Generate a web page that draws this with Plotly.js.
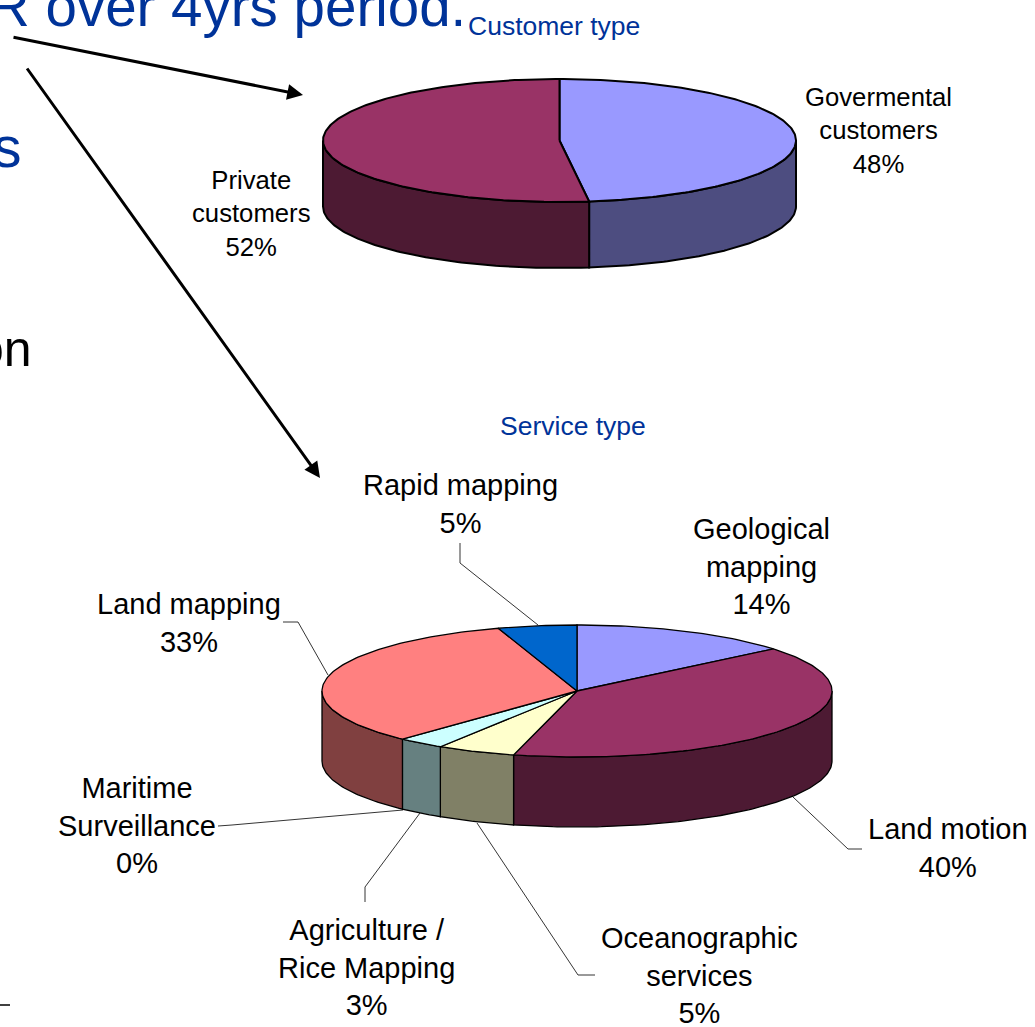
<!DOCTYPE html>
<html>
<head>
<meta charset="utf-8">
<script src="https://cdn.plot.ly/plotly-3.0.1.min.js"></script>
<style>html,body{margin:0;padding:0;background:#fff;overflow:hidden}#chart{width:1035px;height:1027px}</style>
</head>
<body>
<div id="chart"></div>
<script>
// Customer type pie
const customerCategories = ["Govermental<br>customers", "Private<br>customers"];
const customerValues = [48, 52];
const customerTop = ["#9999FF", "#993366"];
const customerSide = ["#4D4D80", "#4D1A33"];
// Service type pie
const serviceCategories = ["Geological<br>mapping", "Land motion", "Oceanographic<br>services", "Agriculture /<br>Rice Mapping", "Maritime<br>Surveillance", "Land mapping", "Rapid mapping"];
const serviceValues = [14, 40, 5, 3, 0, 33, 5];
const serviceTop = ["#9999FF", "#993366", "#FFFFCC", "#CCFFFF", "#660066", "#FF8080", "#0066CC"];
const serviceSide = ["#4D4D80", "#4D1A33", "#808066", "#668080", "#330033", "#804040", "#003366"];

const customerPie = {cx: 559.5, cy: 140.5, rx: 236.5, ry: 61.5, depth: 66, lw: 2};
const servicePie = {cx: 577, cy: 691, rx: 255, ry: 66, depth: 70, lw: 1.3};

function pt(g, deg, dy) {
  const a = deg * Math.PI / 180;
  return [g.cx + g.rx * Math.sin(a), g.cy - g.ry * Math.cos(a) + (dy || 0)];
}
function arc(g, a0, a1, dy) {
  const out = [], n = Math.max(1, Math.ceil(Math.abs(a1 - a0)));
  for (let i = 0; i <= n; i++) out.push(pt(g, a0 + (a1 - a0) * i / n, dy));
  return out;
}
function poly(points, fill, lw) {
  const xs = points.map(p => p[0]), ys = points.map(p => p[1]);
  xs.push(xs[0]); ys.push(ys[0]);
  return {type: "scatter", mode: "lines", x: xs, y: ys, fill: "toself", fillcolor: fill,
    line: {color: "#000", width: lw, shape: "linear"}, hoverinfo: "skip", showlegend: false};
}
function pie(values, top, side, g) {
  const total = values.reduce((a, b) => a + b, 0);
  const sides = [], tops = [];
  let acc = 0;
  values.forEach((v, i) => {
    const a0 = acc / total * 360, a1 = (acc + v) / total * 360;
    acc += v;
    if (v === 0) return;
    const s0 = Math.max(a0, 90), s1 = Math.min(a1, 270);
    if (s1 > s0) sides.push(poly(arc(g, s0, s1, 0).concat(arc(g, s1, s0, g.depth)), side[i], g.lw));
    tops.push(poly([[g.cx, g.cy]].concat(arc(g, a0, a1, 0)), top[i], g.lw));
  });
  return sides.concat(tops);
}

const traces = pie(customerValues, customerTop, customerSide, customerPie)
  .concat(pie(serviceValues, serviceTop, serviceSide, servicePie));

function label(cat, val, x, y, size) {
  return {xref: "x", yref: "y", x, y, text: cat + "<br>" + val + "%", showarrow: false,
    xanchor: "center", yanchor: "middle", align: "center",
    font: {family: "Liberation Sans, Arial, sans-serif", size, color: "#000"}};
}
function slideText(text, x, y, size, color, anchor) {
  return {xref: "x", yref: "y", x, y, text, showarrow: false, xanchor: anchor, yanchor: "middle",
    font: {family: "Liberation Sans, Arial, sans-serif", size, color}};
}
function arrow(x0, y0, x1, y1) {
  return {xref: "x", yref: "y", axref: "x", ayref: "y", x: x1, y: y1, ax: x0, ay: y0, text: "",
    showarrow: true, arrowhead: 2, arrowsize: 1.05, arrowwidth: 3, arrowcolor: "#000", standoff: 0};
}
function leader(pts) {
  return {type: "path", xref: "x", yref: "y", line: {color: "#000", width: 0.8},
    path: pts.map((p, i) => (i ? "L" : "M") + p[0] + "," + p[1]).join(" ")};
}

const annotations = [
  slideText("R over 4yrs period.", 468, 6.5, 56.5, "#003399", "right"),
  slideText("s", 24, 147, 57, "#003399", "right"),
  slideText("on", 34, 349, 50, "#000", "right"),
  slideText("Customer type", 554, 26, 26.5, "#003399", "center"),
  slideText("Service type", 572.5, 426, 26.5, "#003399", "center"),
  label(customerCategories[0], customerValues[0], 878.5, 130.5, 25.7),
  label(customerCategories[1], customerValues[1], 251, 213, 25.7),
  label(serviceCategories[0], serviceValues[0], 761, 566.5, 29),
  label(serviceCategories[1], serviceValues[1], 948, 848, 29),
  label(serviceCategories[2], serviceValues[2], 699.5, 975.5, 29),
  label(serviceCategories[3], serviceValues[3], 366, 967, 29),
  label(serviceCategories[4], serviceValues[4], 136.5, 825, 29),
  label(serviceCategories[5], serviceValues[5], 188.5, 623, 29),
  label(serviceCategories[6], serviceValues[6], 460.5, 504, 29),
  arrow(12, 37, 303, 95),
  arrow(26, 67, 320, 478)
];

const shapes = [
  leader([[218, 826], [232, 825], [403, 810]]),
  leader([[420, 813], [365, 887], [365, 902]]),
  leader([[477, 823], [578, 975], [595, 975]]),
  leader([[793, 797], [848, 849], [862, 849]]),
  leader([[328, 675], [298, 622], [283, 622]]),
  leader([[538, 625], [460, 563], [460, 543]]),
  {type: "line", xref: "x", yref: "y", x0: 0, x1: 10, y0: 1005, y1: 1005, line: {color: "#000", width: 1.5}}
];

const axis = {visible: false, showgrid: false, zeroline: false, fixedrange: true};
const layout = {
  width: 1035, height: 1027,
  margin: {l: 0, r: 0, t: 0, b: 0},
  paper_bgcolor: "#fff", plot_bgcolor: "#fff",
  xaxis: Object.assign({range: [0, 1035]}, axis),
  yaxis: Object.assign({range: [1027, 0]}, axis),
  showlegend: false, hovermode: false,
  annotations, shapes
};
Plotly.newPlot("chart", traces, layout, {displayModeBar: false, staticPlot: true});
</script>
</body>
</html>
